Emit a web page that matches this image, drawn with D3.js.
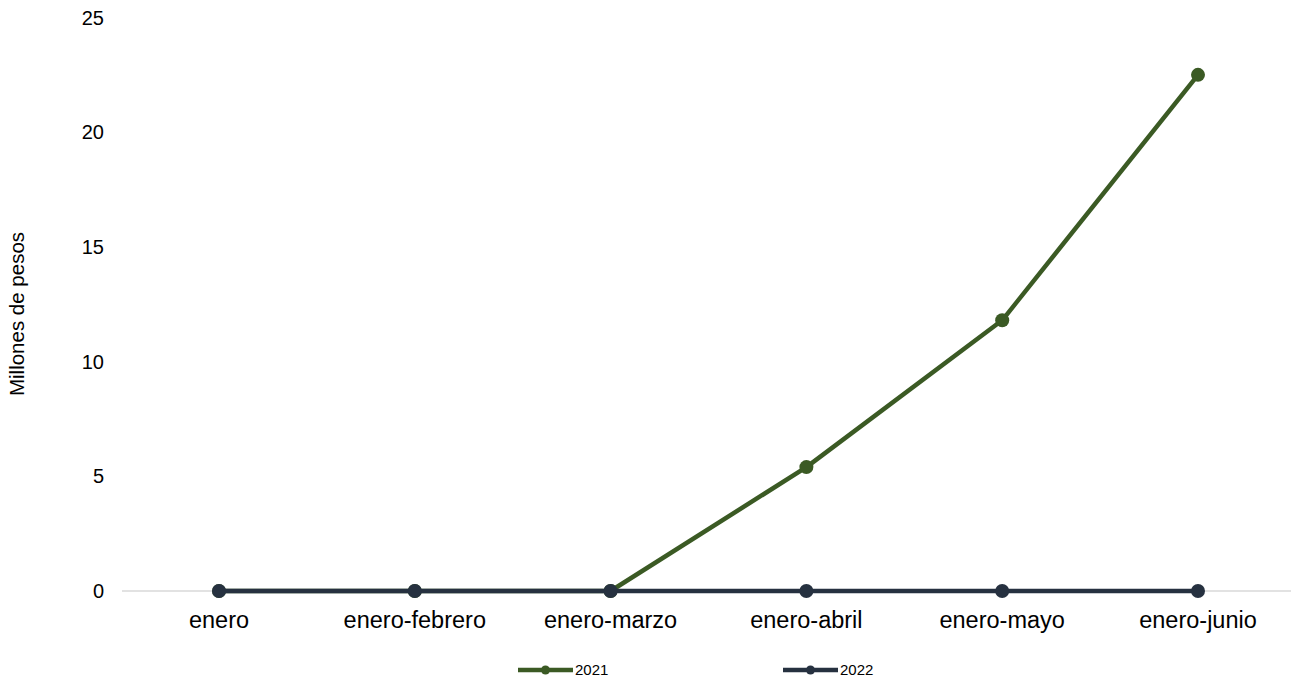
<!DOCTYPE html>
<html><head><meta charset="utf-8">
<script src="https://cdn.jsdelivr.net/npm/d3@7/dist/d3.min.js"></script>
<style>body{margin:0;background:#fff;}svg{display:block;font-family:"Liberation Sans",Arial,sans-serif;}</style>
</head><body><svg id="c" width="1291" height="678"></svg>
<script>
const categories = ["enero","enero-febrero","enero-marzo","enero-abril","enero-mayo","enero-junio"];
const values2021 = [0,0,0,5.4,11.8,22.5];
const values2022 = [0,0,0,0,0,0];
const seriesNames = ["2021","2022"];
const yTicks = [0,5,10,15,20,25];
const colors = ["#3b5a24","#263140"];

const svg = d3.select("#c");
const x = d3.scalePoint().domain(categories).range([219,1198]);
const y = d3.scaleLinear().domain([0,25]).range([591,17.5]);

// baseline
svg.append("line").attr("x1",122).attr("x2",1291).attr("y1",y(0)).attr("y2",y(0))
  .attr("stroke","#d9d9d9").attr("stroke-width",1.5);

// y tick labels
svg.append("g").selectAll("text").data(yTicks).join("text")
  .attr("x",104).attr("y",d=>y(d)).attr("dy","0.35em").attr("text-anchor","end")
  .attr("font-size",20).attr("fill","#000").text(d=>d);

// x labels
svg.append("g").selectAll("text").data(categories).join("text")
  .attr("x",d=>x(d)).attr("y",620).attr("dy","0.35em").attr("text-anchor","middle")
  .attr("font-size",23.5).attr("fill","#000").text(d=>d);

// y title
svg.append("text").attr("transform","translate(17,314) rotate(-90)")
  .attr("dy","0.35em").attr("text-anchor","middle").attr("font-size",20.5).attr("fill","#000")
  .text("Millones de pesos");

const series = [values2021, values2022];
const line = d3.line().x((d,i)=>x(categories[i])).y(d=>y(d));
series.forEach((vals,si)=>{
  const g = svg.append("g");
  g.append("path").datum(vals).attr("d",line).attr("fill","none")
    .attr("stroke",colors[si]).attr("stroke-width",4.5).attr("stroke-linejoin","round");
  g.selectAll("circle").data(vals).join("circle")
    .attr("cx",(d,i)=>x(categories[i])).attr("cy",d=>y(d)).attr("r",7).attr("fill",colors[si]);
});

// legend
const legX = [518,783];
seriesNames.forEach((n,i)=>{
  const g = svg.append("g").attr("transform",`translate(${legX[i]},670)`);
  g.append("line").attr("x1",0).attr("x2",55).attr("stroke",colors[i]).attr("stroke-width",4.5);
  g.append("circle").attr("cx",27.5).attr("r",4.5).attr("fill",colors[i]);
  g.append("text").attr("x",57).attr("dy","0.35em").attr("font-size",15).attr("fill","#000").text(n);
});
</script></body></html>
